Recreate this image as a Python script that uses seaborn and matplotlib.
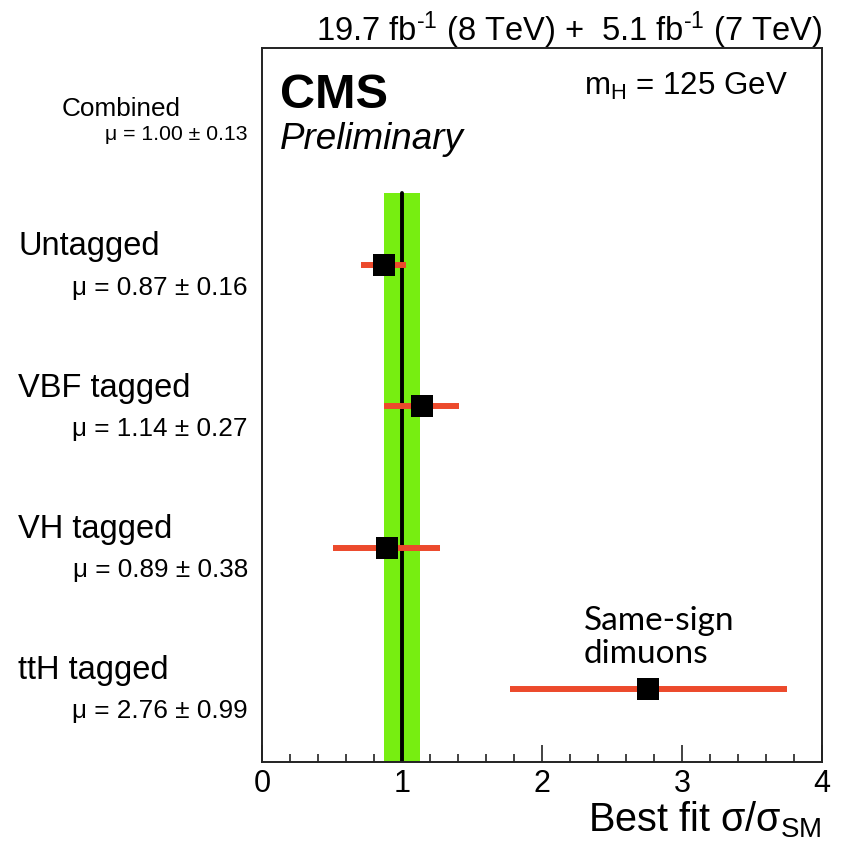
import matplotlib
matplotlib.use("Agg")
import matplotlib.pyplot as plt
from matplotlib.ticker import MultipleLocator
import seaborn as sns
import pandas as pd

# Signal strength per event category
categories = ["Untagged", "VBF tagged", "VH tagged", "ttH tagged"]
mu_values = [0.87, 1.14, 0.89, 2.76]
mu_errors = [0.16, 0.27, 0.38, 0.99]
row_positions = [3, 2, 1, 0]

combined_mu = 1.00
combined_err = 0.13
combined_row = 4

df = pd.DataFrame({"category": categories, "mu": mu_values,
                   "err": mu_errors, "row": row_positions})

sns.set_theme(style="ticks")
plt.rcParams["font.family"] = ["Liberation Sans", "DejaVu Sans"]
plt.rcParams["mathtext.fontset"] = "custom"
plt.rcParams["mathtext.rm"] = "Liberation Sans"
plt.rcParams["mathtext.it"] = "Liberation Sans:italic"
plt.rcParams["text.color"] = "black"
plt.rcParams["xtick.color"] = "black"
plt.rcParams["xtick.labelcolor"] = "black"

fig = plt.figure(figsize=(8.44, 8.48), dpi=100)
ax = fig.add_axes([0.3104, 0.1014, 0.6636, 0.842])

ymin, ymax = -0.52, 4.54
ax.set_xlim(0, 4)
ax.set_ylim(ymin, ymax)

# Combined result: band and central line
ax.fill_betweenx([ymin, combined_row - 0.49], combined_mu - combined_err,
                 combined_mu + combined_err, color="#77ee11", lw=0, zorder=1)
ax.plot([combined_mu, combined_mu], [ymin, combined_row - 0.49],
        color="black", lw=2.8, zorder=2)

# Per-category uncertainties and best fits
ax.errorbar(df["mu"], df["row"], xerr=df["err"], fmt="none",
            ecolor="#ec4a2c", elinewidth=4.3, capsize=0, zorder=3)
sns.scatterplot(data=df, x="mu", y="row", marker="s", s=260, color="black",
                edgecolor="black", linewidth=0, ax=ax, zorder=4, legend=False)

# Axes styling
ax.set_yticks([])
ax.set_ylabel("")
ax.xaxis.set_major_locator(MultipleLocator(1))
ax.xaxis.set_minor_locator(MultipleLocator(0.2))
ax.tick_params(axis="x", which="major", direction="in", length=12, width=1.2,
               labelsize=22, pad=5, color="#222222")
ax.tick_params(axis="x", which="minor", direction="in", length=6, width=1.2,
               color="#222222")
for sp in ax.spines.values():
    sp.set_linewidth(1.4)
    sp.set_color("#222222")
ax.set_xlabel("")

fig.text(0.974, 0.019, "Best fit \u03c3/\u03c3$_{\\mathrm{SM}}$", ha="right",
         va="baseline", fontsize=28.5)

# Header texts
fig.text(0.974, 0.952,
         r"19.7 fb$^{\text{-1}}$ (8 TeV) +  5.1 fb$^{\text{-1}}$ (7 TeV)",
         ha="right", va="baseline", fontsize=23.5)
ax.text(0.032, 0.916, "CMS", transform=ax.transAxes, ha="left",
        va="baseline", fontsize=35, fontweight="bold")
ax.text(0.032, 0.858, "Preliminary", transform=ax.transAxes, ha="left",
        va="baseline", fontsize=26.5, style="italic")
ax.text(0.575, 0.934, r"m$_{\mathrm{H}}$ = 125 GeV", transform=ax.transAxes,
        ha="left", va="baseline", fontsize=22.5)

# Category labels on the left
trans = ax.get_yaxis_transform()
for cat, m, e, r in zip(categories, mu_values, mu_errors, row_positions):
    ax.text(-0.435, r + 0.07, cat, transform=trans, ha="left",
            va="baseline", fontsize=23.5)
    ax.text(-0.025, r - 0.21, f"\u03bc = {m:.2f} \u00b1 {e:.2f}",
            transform=trans, ha="right", va="baseline", fontsize=18.8)

ax.text(-0.358, combined_row + 0.057, "Combined", transform=trans, ha="left",
        va="baseline", fontsize=18.8)
ax.text(-0.025, combined_row - 0.115,
        f"\u03bc = {combined_mu:.2f} \u00b1 {combined_err:.2f}",
        transform=trans, ha="right", va="baseline", fontsize=15.3)

ax.text(2.30, 0.14, "Same-sign\ndimuons", ha="left", va="bottom",
        fontsize=24, family=["Lato", "DejaVu Sans"], linespacing=1.1)

fig.savefig("out.png", dpi=100, facecolor="white")
